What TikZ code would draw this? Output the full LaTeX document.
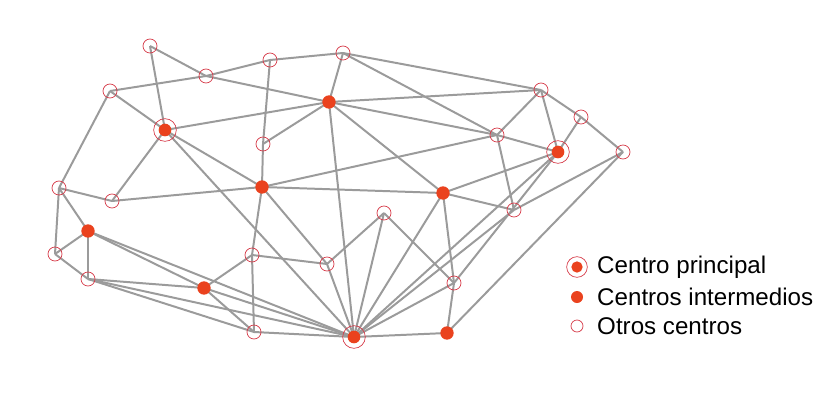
\documentclass[tikz,border=0pt]{standalone}
\usepackage{fontspec}
\setmainfont{Liberation Sans}
\usetikzlibrary{backgrounds}

\definecolor{gris}{RGB}{155,155,155}
\definecolor{rojo}{RGB}{234,66,30}
\definecolor{borde}{RGB}{214,60,74}

\tikzset{
    arista/.style={gris, line width=1.7pt},
    otro/.style={circle, draw=borde, line width=0.6pt, minimum size=0.42cm, inner sep=0pt},
    intermedio/.style={circle, fill=rojo, minimum size=0.4cm, inner sep=0pt},
    principal/.style={circle, draw=borde, line width=0.6pt, minimum size=0.68cm, inner sep=0pt,
        path picture={\fill[rojo] (path picture bounding box.center) circle (0.19cm);}},
    leyenda/.style={anchor=west, font=\fontsize{20.6}{22}\selectfont, inner sep=0pt}
}

\begin{document}
\begin{tikzpicture}[x=0.03cm, y=-0.03cm]
    % Limites del dibujo
    \useasboundingbox (0,0) rectangle (832,411);

    % Otros centros
    \node[otro] (o1) at (150,46) {};
    \node[otro] (o2) at (206,76) {};
    \node[otro] (o3) at (270,60) {};
    \node[otro] (o4) at (343,53) {};
    \node[otro] (o5) at (110,91) {};
    \node[otro] (o6) at (541,90) {};
    \node[otro] (o7) at (497,135) {};
    \node[otro] (o8) at (581,117) {};
    \node[otro] (o9) at (623,152) {};
    \node[otro] (o10) at (263,144) {};
    \node[otro] (o11) at (59,188) {};
    \node[otro] (o12) at (112,201) {};
    \node[otro] (o13) at (514,210) {};
    \node[otro] (o14) at (384,213) {};
    \node[otro] (o15) at (55,254) {};
    \node[otro] (o16) at (252,255) {};
    \node[otro] (o17) at (327,264) {};
    \node[otro] (o18) at (88,279) {};
    \node[otro] (o19) at (454,283) {};
    \node[otro] (o20) at (254,332) {};

    % Centros intermedios
    \node[intermedio] (m1) at (329,102) {};
    \node[intermedio] (m2) at (262,187) {};
    \node[intermedio] (m3) at (443,193) {};
    \node[intermedio] (m4) at (88,231) {};
    \node[intermedio] (m5) at (204,288) {};
    \node[intermedio] (m6) at (447,333) {};

    % Centros principales
    \node[principal] (p1) at (165,130) {};
    \node[principal] (p2) at (558,152) {};
    \node[principal] (p3) at (354,337) {};

    % Aristas de la red
    \begin{scope}[on background layer]
    \foreach \a/\b in {o1/o2, o1/p1, o2/o3, o2/m1, o3/o4, o3/o10, o4/m1, o4/o6, o4/o7,
        o5/o2, o5/p1, o5/o11, p1/m1, p1/m2, p1/p3, p1/o12, m1/o10, m1/o6, m1/o7, m1/m3,
        m1/p3, o10/m2, o11/o12, o11/m4, o11/o15, o12/m2, m2/o7, m2/m3, m2/o16, m2/o17,
        o6/o7, o6/p2, o6/o8, o8/o9, o8/p2, o7/p2, o7/o13, m3/p2, m3/o13, m3/p3, m3/o19,
        o13/o9, o9/m6, p2/p3, p2/o19, o13/p3, o14/o17, o14/p3, o14/o19, o16/o17, o16/o20,
        o16/m5, o17/p3, o19/m6, o19/p3, m6/p3, p3/o20, o15/m4, o15/o18, m4/o18, m4/m5,
        m4/p3, o18/m5, o18/p3, o18/o20, m5/o20, m5/p3}
        \draw[arista] (\a.center) -- (\b.center);
    \end{scope}

    % Leyenda
    \node[principal, minimum size=0.62cm, path picture={\fill[rojo] (path picture bounding box.center) circle (0.17cm);}] (lp) at (577,267) {};
    \node[intermedio, minimum size=0.36cm] (lm) at (577,297) {};
    \node[otro, minimum size=0.36cm] (lo) at (577,326) {};
    \node[leyenda] (tp) at (597,267) {Centro principal};
    \node[leyenda] (tm) at (597,297) {Centros intermedios};
    \node[leyenda] (to) at (597,326) {Otros centros};
\end{tikzpicture}
\end{document}
